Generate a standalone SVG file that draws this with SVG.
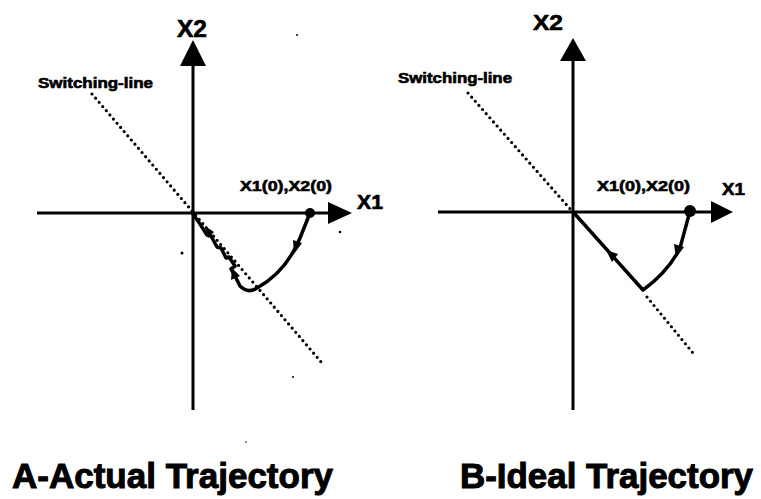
<svg xmlns="http://www.w3.org/2000/svg" width="761" height="499" viewBox="0 0 761 499">
<style>
.ax{stroke:#000;stroke-width:3;fill:none}
.sw{stroke:#000;stroke-width:3.2;fill:none;stroke-dasharray:0 5.5;stroke-linecap:round}
.tr{stroke:#000;stroke-width:3.5;fill:none;stroke-linejoin:round;stroke-linecap:round}
.hd{fill:#000}
.t{font-family:"Liberation Sans",Arial,sans-serif;font-weight:bold;fill:#000;stroke:#000;stroke-width:0.6}
.big{stroke-width:1}
</style>
<rect width="761" height="499" fill="#fff"/>
<g id="plotA">
  <line class="ax" x1="37" y1="213" x2="330" y2="213"/>
  <polygon class="hd" points="352,213 328,202 328,224"/>
  <line class="ax" x1="193" y1="64" x2="193" y2="410"/>
  <polygon class="hd" points="193,40 180,66 206,66"/>
  <line class="sw" x1="92" y1="94" x2="322" y2="363"/>
  <path class="tr" d="M310,213 L300,238 Q286,272 257,288 Q248,294 240,286 L236,278 L231,269 L235,266 L229,257 L226,258 L221,248 L217,247 L211,236 L207,235 L200,224 L193,214"/>
  <polygon class="hd" points="294,254 293,240 302,243"/>
  <polygon class="hd" points="232,268 231,280 240,276"/>
  <polygon class="hd" points="205,226 208,238 214,232"/>
  <circle cx="310" cy="213" r="5"/>
  <text class="t" x="177" y="37" font-size="23" textLength="30" lengthAdjust="spacingAndGlyphs">X2</text>
  <text class="t" x="357" y="209" font-size="20" textLength="26" lengthAdjust="spacingAndGlyphs">X1</text>
  <text class="t" x="38" y="88" font-size="14" textLength="115" lengthAdjust="spacingAndGlyphs">Switching-line</text>
  <text class="t" x="240" y="191" font-size="15" textLength="92" lengthAdjust="spacingAndGlyphs">X1(0),X2(0)</text>
  <circle cx="182" cy="253" r="1.5"/>
  <circle cx="340" cy="232" r="1.3"/>
  <circle cx="297" cy="35" r="1"/>
  <circle cx="293" cy="377" r="1"/>
  <circle cx="246" cy="442" r="0.8"/>
  <text class="t big" x="12" y="488" font-size="35" textLength="321" lengthAdjust="spacingAndGlyphs">A-Actual Trajectory</text>
</g>
<g id="plotB">
  <line class="ax" x1="438" y1="212" x2="713" y2="212"/>
  <polygon class="hd" points="733,212 711,201 711,223"/>
  <line class="ax" x1="573" y1="59" x2="573" y2="410"/>
  <polygon class="hd" points="573,38 560,61 586,61"/>
  <line class="sw" x1="468" y1="93" x2="572" y2="211"/>
  <line class="sw" x1="647" y1="297" x2="693" y2="353"/>
  <path class="tr" d="M690,211 L680,248 Q668,272 643,290 L574,213"/>
  <polygon class="hd" points="676,258 674,244 684,247"/>
  <polygon class="hd" points="606,250 618,254 612,262"/>
  <circle cx="690" cy="211" r="6"/>
  <text class="t" x="533" y="30" font-size="22" textLength="30" lengthAdjust="spacingAndGlyphs">X2</text>
  <text class="t" x="722" y="195" font-size="17" textLength="23" lengthAdjust="spacingAndGlyphs">X1</text>
  <text class="t" x="398" y="83" font-size="14" textLength="114" lengthAdjust="spacingAndGlyphs">Switching-line</text>
  <text class="t" x="597" y="191" font-size="15" textLength="93" lengthAdjust="spacingAndGlyphs">X1(0),X2(0)</text>
  <text class="t big" x="460" y="488" font-size="35" textLength="293" lengthAdjust="spacingAndGlyphs">B-Ideal Trajectory</text>
</g>
</svg>
